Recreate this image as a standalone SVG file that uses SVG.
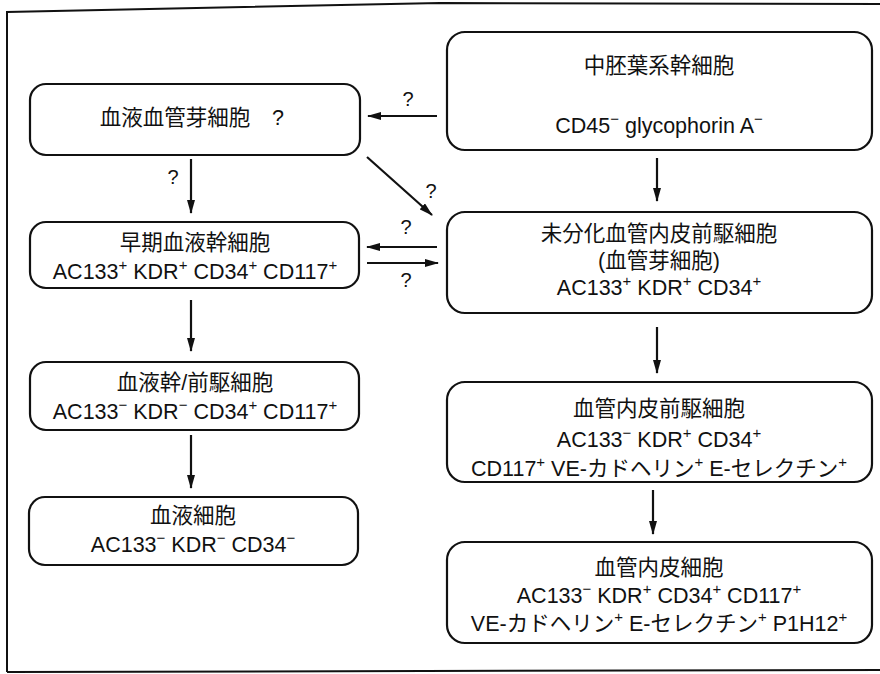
<svg xmlns="http://www.w3.org/2000/svg" width="880" height="674" viewBox="0 0 880 674">
<style>
.frame{fill:none;stroke:#111;stroke-width:2}
.box{fill:#fff;stroke:#111;stroke-width:2.2}
.t{font-family:"Liberation Sans","Noto Sans CJK JP",sans-serif;font-size:21.5px;fill:#111;text-anchor:middle}
.q{font-family:"Liberation Sans","Noto Sans CJK JP",sans-serif;font-size:20px;fill:#111;text-anchor:middle}
.sp{font-size:15px}
.c{stroke:#111;stroke-width:2.2;fill:none;marker-end:url(#ah)}
</style>
<defs>
<marker id="ah" viewBox="0 0 14 8" refX="13" refY="4" markerWidth="14" markerHeight="8" orient="auto" markerUnits="userSpaceOnUse"><path d="M0,0 L14,4 L0,8 z" fill="#111"/></marker>
</defs>
<rect width="880" height="674" fill="#fff"/>
<path class="frame" d="M7,672 L7,12 L440,3 L880,4"/>
<path class="frame" d="M7,672 L880,670"/>

<g id="n-hemangioblast">
<rect class="box" x="30" y="84" width="330" height="71" rx="16"/>
<text class="t" x="175" y="125">血液血管芽細胞</text>
<text class="t" x="278" y="125">?</text>
</g>
<g id="n-early-hsc">
<rect class="box" x="30" y="222" width="329" height="66" rx="16"/>
<text class="t" x="195" y="250">早期血液幹細胞</text>
<text class="t" x="195" y="279">AC133<tspan class="sp" dy="-9">+</tspan><tspan dy="9"> KDR</tspan><tspan class="sp" dy="-9">+</tspan><tspan dy="9"> CD34</tspan><tspan class="sp" dy="-9">+</tspan><tspan dy="9"> CD117</tspan><tspan class="sp" dy="-9">+</tspan></text>
</g>
<g id="n-hsc-progenitor">
<rect class="box" x="30" y="362" width="329" height="68" rx="16"/>
<text class="t" x="195" y="390">血液幹/前駆細胞</text>
<text class="t" x="195" y="419">AC133<tspan class="sp" dy="-9">−</tspan><tspan dy="9"> KDR</tspan><tspan class="sp" dy="-9">−</tspan><tspan dy="9"> CD34</tspan><tspan class="sp" dy="-9">+</tspan><tspan dy="9"> CD117</tspan><tspan class="sp" dy="-9">+</tspan></text>
</g>
<g id="n-blood">
<rect class="box" x="29" y="497" width="329" height="68" rx="16"/>
<text class="t" x="193" y="523">血液細胞</text>
<text class="t" x="193" y="552">AC133<tspan class="sp" dy="-9">−</tspan><tspan dy="9"> KDR</tspan><tspan class="sp" dy="-9">−</tspan><tspan dy="9"> CD34</tspan><tspan class="sp" dy="-9">−</tspan></text>
</g>

<g id="n-mesoderm">
<rect class="box" x="447" y="32" width="425" height="118" rx="18"/>
<text class="t" x="659" y="73">中胚葉系幹細胞</text>
<text class="t" x="659" y="133">CD45<tspan class="sp" dy="-9">−</tspan><tspan dy="9"> glycophorin A</tspan><tspan class="sp" dy="-9">−</tspan></text>
</g>
<g id="n-undiff-epc">
<rect class="box" x="447" y="212" width="425" height="101" rx="18"/>
<text class="t" x="659" y="241">未分化血管内皮前駆細胞</text>
<text class="t" x="659" y="268">(血管芽細胞)</text>
<text class="t" x="659" y="295">AC133<tspan class="sp" dy="-9">+</tspan><tspan dy="9"> KDR</tspan><tspan class="sp" dy="-9">+</tspan><tspan dy="9"> CD34</tspan><tspan class="sp" dy="-9">+</tspan></text>
</g>
<g id="n-epc">
<rect class="box" x="447" y="382" width="425" height="100" rx="18"/>
<text class="t" x="659" y="416">血管内皮前駆細胞</text>
<text class="t" x="659" y="447">AC133<tspan class="sp" dy="-9">−</tspan><tspan dy="9"> KDR</tspan><tspan class="sp" dy="-9">+</tspan><tspan dy="9"> CD34</tspan><tspan class="sp" dy="-9">+</tspan></text>
<text class="t" x="659" y="476">CD117<tspan class="sp" dy="-9">+</tspan><tspan dy="9"> VE-カドヘリン</tspan><tspan class="sp" dy="-9">+</tspan><tspan dy="9"> E-セレクチン</tspan><tspan class="sp" dy="-9">+</tspan></text>
</g>
<g id="n-ec">
<rect class="box" x="447" y="542" width="425" height="101" rx="18"/>
<text class="t" x="659" y="575">血管内皮細胞</text>
<text class="t" x="659" y="603">AC133<tspan class="sp" dy="-9">−</tspan><tspan dy="9"> KDR</tspan><tspan class="sp" dy="-9">+</tspan><tspan dy="9"> CD34</tspan><tspan class="sp" dy="-9">+</tspan><tspan dy="9"> CD117</tspan><tspan class="sp" dy="-9">+</tspan></text>
<text class="t" x="659" y="631">VE-カドヘリン<tspan class="sp" dy="-9">+</tspan><tspan dy="9"> E-セレクチン</tspan><tspan class="sp" dy="-9">+</tspan><tspan dy="9"> P1H12</tspan><tspan class="sp" dy="-9">+</tspan></text>
</g>

<g id="connectors">
<line class="c" x1="437" y1="116" x2="368" y2="116"/>
<text class="q" x="408" y="106">?</text>
<line class="c" x1="191" y1="159" x2="191" y2="213"/>
<text class="q" x="173" y="184">?</text>
<line class="c" x1="367" y1="157" x2="432" y2="215"/>
<text class="q" x="431" y="198">?</text>
<line class="c" x1="657" y1="158" x2="657" y2="201"/>
<line class="c" x1="437" y1="247" x2="367" y2="247"/>
<text class="q" x="406" y="234">?</text>
<line class="c" x1="367" y1="263" x2="438" y2="263"/>
<text class="q" x="406" y="287">?</text>
<line class="c" x1="191" y1="300" x2="191" y2="351"/>
<line class="c" x1="191" y1="435" x2="191" y2="488"/>
<line class="c" x1="657" y1="327" x2="657" y2="373"/>
<line class="c" x1="653" y1="490" x2="653" y2="534"/>
</g>
</svg>
